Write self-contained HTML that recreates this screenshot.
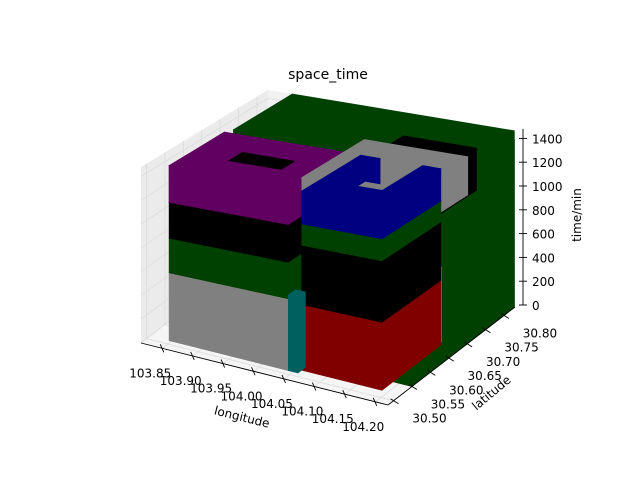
<!DOCTYPE html>
<html><head><meta charset="utf-8"><style>
html,body{margin:0;padding:0;background:#fff;width:640px;height:480px;overflow:hidden}
svg{display:block;font-family:"DejaVu Sans","Liberation Sans",sans-serif}
</style></head><body>
<svg id="chart" width="640" height="480" viewBox="0 0 640 480">
<rect width="640" height="480" fill="#fff"/>
<g id="panes"></g>
<g id="boxes"></g>
<g id="axes"></g>
<text x="328" y="79" font-size="14" text-anchor="middle">space_time</text>
<text x="241" y="421" font-size="12" text-anchor="middle" transform="rotate(14 241 421)">longitude</text>
<text x="494" y="396" font-size="12" text-anchor="middle" transform="rotate(-40 494 396)">latitude</text>
<text x="581" y="215" font-size="12" text-anchor="middle" transform="rotate(-90 581 215)">time/min</text>
</svg>
<script>
// data (boxes: lon0, lon1, lat0, lat1, t0, t1, color)
const lon0 = [103.855,104.19,103.846,103.846,103.846,103.90,103.846,103.846,103.846,104.00,104.08,104.04,104.058,104.058,104.058,104.09,104.058,104.058,104.058,104.16,104.185,104.042,104.175];
const lon1 = [104.22,104.22,104.042,104.042,104.042,104.00,104.042,104.042,103.90,104.042,104.20,104.21,104.19,104.19,104.19,104.16,104.19,104.19,104.09,104.19,104.20,104.058,104.185];
const lat0 = [30.67,30.55,30.51,30.51,30.51,30.56,30.62,30.51,30.51,30.51,30.55,30.55,30.52,30.52,30.52,30.57,30.64,30.52,30.52,30.52,30.69,30.51,30.67];
const lat1 = [30.83,30.83,30.66,30.66,30.66,30.62,30.66,30.56,30.66,30.66,30.76,30.72,30.68,30.68,30.68,30.64,30.68,30.57,30.68,30.68,30.71,30.53,30.69];
const t0 = [0,0,0,570,860,1160,1160,1160,1160,1160,1100,1150,0,520,990,1160,1160,1160,1160,1160,0,0,0];
const t1 = [1480,1400,570,860,1160,1420,1470,1470,1470,1470,1450,1460,520,990,1160,1300,1420,1420,1420,1420,550,600,600];
const colors = ["#004000","#004000","#808080","#004000","#000000","#000000","#600060","#600060","#600060","#600060","#000000","#808080","#800000","#000000","#004000","#808080","#000080","#000080","#000080","#000080","#006060","#006060","#808000"];
const boxNames = ["green-back","green-right","gray-base","green-layer","black-layer","black-inner","purple-back","purple-front","purple-left","purple-right","black-top","gray-top","red-base","black-mid","green-mid","gray-inner","blue-back","blue-front","blue-left","blue-right","cyan-back","cyan-column","olive-column"];
const xTicks = [103.85,103.90,103.95,104.00,104.05,104.10,104.15,104.20];
const yTicks = [30.50,30.55,30.60,30.65,30.70,30.75,30.80];
const zTicks = [0,200,400,600,800,1000,1200,1400];

const XMIN=103.815, XMAX=104.221, YMIN=30.485, YMAX=30.83, ZMAX=1480;
const NS='http://www.w3.org/2000/svg';
function fx(x){return (x-XMIN)/(XMAX-XMIN);}
function fy(y){return (y-YMIN)/(YMAX-YMIN);}
function P(x,y,z){const a=fx(x),b=fy(y);const s=1+0.12*a-0.12*b;
  return [141+247*a+127*b, 343+62*a-98*b - z*0.119*s];}
function pts(arr){return arr.map(p=>p[0].toFixed(1)+','+p[1].toFixed(1)).join(' ');}
function poly(g,arr,fill,stroke,name){const e=document.createElementNS(NS,'polygon');
  e.setAttribute('points',pts(arr));e.setAttribute('fill',fill);
  if(stroke){e.setAttribute('stroke',stroke);e.setAttribute('stroke-width','0.6');}
  
  
  g.appendChild(e);return e;}
function line(g,a,b,col,w,name){const e=document.createElementNS(NS,'line');
  e.setAttribute('x1',a[0]);e.setAttribute('y1',a[1]);e.setAttribute('x2',b[0]);e.setAttribute('y2',b[1]);
  e.setAttribute('stroke',col);e.setAttribute('stroke-width',w);
  
  
  g.appendChild(e);}
function text(g,x,y,s,anchor,name){const e=document.createElementNS(NS,'text');
  e.setAttribute('x',x);e.setAttribute('y',y);e.setAttribute('font-size','12');e.setAttribute('text-anchor',anchor);
  e.textContent=s;
  
  
  g.appendChild(e);}

const pg=document.getElementById('panes');
poly(pg,[P(XMIN,YMIN,0),P(XMIN,YMAX,0),P(XMIN,YMAX,ZMAX),P(XMIN,YMIN,ZMAX)],'#ebebeb',null,'left-pane');
poly(pg,[P(XMIN,YMAX,0),P(XMAX,YMAX,0),P(XMAX,YMAX,ZMAX),P(XMIN,YMAX,ZMAX)],'#f2f2f2',null,'back-pane');
poly(pg,[P(XMIN,YMIN,0),P(XMAX,YMIN,0),P(XMAX,YMAX,0),P(XMIN,YMAX,0)],'#f5f5f5',null,'floor-pane');
xTicks.forEach(v=>{line(pg,P(v,YMIN,0),P(v,YMAX,0),'#dcdcdc',0.8,'x-gridline');line(pg,P(v,YMAX,0),P(v,YMAX,ZMAX),'#dcdcdc',0.8,'x-gridline');});
yTicks.forEach(v=>{line(pg,P(XMIN,v,0),P(XMAX,v,0),'#dcdcdc',0.8,'y-gridline');line(pg,P(XMIN,v,0),P(XMIN,v,ZMAX),'#dcdcdc',0.8,'y-gridline');});
zTicks.forEach(v=>{line(pg,P(XMIN,YMIN,v),P(XMIN,YMAX,v),'#dcdcdc',0.8,'z-gridline');line(pg,P(XMIN,YMAX,v),P(XMAX,YMAX,v),'#dcdcdc',0.8,'z-gridline');});

const bg=document.getElementById('boxes');
const order=lon0.map((_,i)=>i).sort((i,j)=>{
  const di=(1-fx((lon0[i]+lon1[i])/2))*0.5+fy((lat0[i]+lat1[i])/2)*0.6;
  const dj=(1-fx((lon0[j]+lon1[j])/2))*0.5+fy((lat0[j]+lat1[j])/2)*0.6;
  if(Math.abs(di-dj)>0.02) return dj-di;
  return t0[i]-t0[j];});
order.forEach(i=>{
  const x0=lon0[i],x1=lon1[i],y0=lat0[i],y1=lat1[i],z0=t0[i],z1=t1[i],c=colors[i];
  poly(bg,[P(x0,y0,z0),P(x1,y0,z0),P(x1,y0,z1),P(x0,y0,z1)],c,c,boxNames[i]+'-front');
  poly(bg,[P(x1,y0,z0),P(x1,y1,z0),P(x1,y1,z1),P(x1,y0,z1)],c,c,boxNames[i]+'-side');
  poly(bg,[P(x0,y0,z1),P(x1,y0,z1),P(x1,y1,z1),P(x0,y1,z1)],c,c,boxNames[i]+'-top');
});

const ag=document.getElementById('axes');
line(ag,P(XMIN,YMIN,0),P(XMAX,YMIN,0),'#000',0.9,'x-axis-line');
line(ag,P(XMAX,YMIN,0),P(XMAX,YMAX,0),'#000',0.9,'y-axis-line');
xTicks.forEach(v=>{const p=P(v,YMIN,0);line(ag,[p[0]-2,p[1]-4],[p[0]+1.5,p[1]+4],'#000',0.9,'x-tick');
  text(ag,p[0]-12,p[1]+29,v.toFixed(2),'middle','x-tick-label');});
yTicks.forEach(v=>{const p=P(XMAX,v,0);line(ag,[p[0]-3,p[1]-2],[p[0]+5,p[1]+3],'#000',0.9,'y-tick');
  text(ag,p[0]+36,p[1]+22,v.toFixed(2),'middle','y-tick-label');});
const zb=P(XMAX,YMAX,0),zt=P(XMAX,YMAX,ZMAX);
line(ag,[zb[0]+8,zb[1]-2],[zt[0]+8,zt[1]-2],'#000',0.9,'z-axis-line');
zTicks.forEach(v=>{const p=P(XMAX,YMAX,v);line(ag,[p[0]+4,p[1]-2],[p[0]+12,p[1]-2],'#000',0.9,'z-tick');
  text(ag,p[0]+17,p[1]+3,String(v),'start','z-tick-label');});
</script>
</body></html>
